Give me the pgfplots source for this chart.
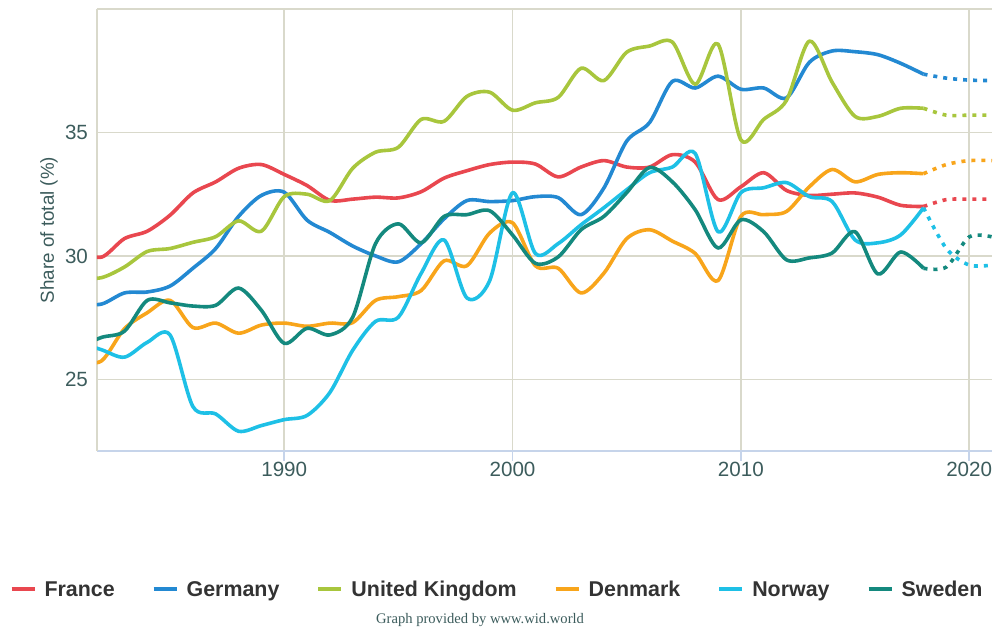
\documentclass[border=0pt]{standalone}
\usepackage{pgfplots}
\pgfplotsset{compat=1.18}
\usepackage{fontspec}
\setmainfont{Liberation Sans}
\newfontfamily\creditfont{Liberation Serif}
\definecolor{cFR}{HTML}{E9474F}
\definecolor{cDE}{HTML}{2389D2}
\definecolor{cUK}{HTML}{A8C63D}
\definecolor{cDK}{HTML}{F8A51B}
\definecolor{cNO}{HTML}{1EC0E6}
\definecolor{cSE}{HTML}{14897E}
\definecolor{gridc}{HTML}{D9D9CB}
\definecolor{axisblue}{HTML}{C6D4EA}
\definecolor{labc}{HTML}{3C5C5C}
\definecolor{legc}{HTML}{333333}
\begin{document}
\begin{tikzpicture}
\useasboundingbox (-48.5pt,-89.5pt) rectangle (449.5pt,225.5pt);
\begin{axis}[
  at={(0,0)}, anchor=south west,
  scale only axis, width=447.5pt, height=221pt,
  xmin=1981.8, xmax=2021, ymin=22.1, ymax=40,
  clip mode=individual,
  xtick={1990,2000,2010,2020}, ytick={25,30,35,40}, yticklabels={25,30,35,},
  grid=major, major grid style={gridc, line width=0.75pt},
  axis x line*=bottom, axis y line*=left,
  x axis line style={axisblue, line width=0.75pt, -},
  y axis line style={gridc, line width=0.75pt, -},
  tick align=outside, major tick length=5pt,
  xtick style={axisblue, line width=0.75pt},
  ytick style={draw=none},
  ticklabel style={font=\fontsize{10.3}{12}\selectfont, text=labc},
  /pgf/number format/assume math mode=true,
  x tick label style={/pgf/number format/1000 sep={}, yshift=3pt},
  y tick label style={xshift=4pt},
  ylabel={Share of total (\%)},
  ylabel style={at={(axis description cs:-0.0536,0.5)}, anchor=center, font=\fontsize{9.4}{11}\selectfont, text=labc},
  legend columns=6,
  legend style={at={(axis description cs:0.4458,-0.3130)}, anchor=center, draw=none, fill=none,
    font=\bfseries\fontsize{10.7}{13}\selectfont, text=legc, inner sep=0pt,
    nodes={inner sep=0pt, text height=8.5pt, text depth=1pt},
    column sep=4pt, /tikz/every even column/.append style={column sep=18.5pt}},
  legend image code/.code={\draw[#1, line width=2pt, solid] (0pt,0pt) -- (11.5pt,0pt);},
  legend cell align=left,
  every axis plot/.append style={line width=1.8pt, smooth, line join=round},
]
% France
\addplot[cFR] coordinates {
(1981,30.2)(1982,29.95)(1983,30.7)(1984,31.0)(1985,31.65)(1986,32.55)(1987,33.0)(1988,33.55)(1989,33.7)(1990,33.3)
(1991,32.85)(1992,32.25)(1993,32.3)(1994,32.38)(1995,32.35)(1996,32.6)(1997,33.15)(1998,33.45)(1999,33.7)(2000,33.8)
(2001,33.72)(2002,33.2)(2003,33.6)(2004,33.86)(2005,33.6)(2006,33.6)(2007,34.1)(2008,33.8)(2009,32.28)(2010,32.8)
(2011,33.37)(2012,32.65)(2013,32.45)(2014,32.5)(2015,32.55)(2016,32.38)(2017,32.05)(2018,32.0)};
\addlegendentry{France}
% Germany
\addplot[cDE] coordinates {
(1981,28.05)(1982,28.05)(1983,28.5)(1984,28.54)(1985,28.78)(1986,29.5)(1987,30.3)(1988,31.6)(1989,32.45)(1990,32.58)
(1991,31.45)(1992,30.95)(1993,30.4)(1994,30.0)(1995,29.76)(1996,30.5)(1997,31.5)(1998,32.24)(1999,32.2)(2000,32.24)
(2001,32.4)(2002,32.36)(2003,31.67)(2004,32.75)(2005,34.65)(2006,35.4)(2007,37.07)(2008,36.8)(2009,37.28)(2010,36.75)
(2011,36.8)(2012,36.4)(2013,37.84)(2014,38.3)(2015,38.27)(2016,38.15)(2017,37.8)(2018,37.36)};
\addlegendentry{Germany}
% United Kingdom
\addplot[cUK] coordinates {
(1981,29.1)(1982,29.12)(1983,29.55)(1984,30.18)(1985,30.3)(1986,30.55)(1987,30.78)(1988,31.42)(1989,31.0)(1990,32.4)
(1991,32.5)(1992,32.24)(1993,33.55)(1994,34.2)(1995,34.4)(1996,35.53)(1997,35.45)(1998,36.46)(1999,36.63)(2000,35.9)
(2001,36.2)(2002,36.42)(2003,37.6)(2004,37.1)(2005,38.25)(2006,38.5)(2007,38.66)(2008,36.95)(2009,38.58)(2010,34.7)
(2011,35.53)(2012,36.3)(2013,38.7)(2014,37.03)(2015,35.65)(2016,35.65)(2017,35.98)(2018,35.98)};
\addlegendentry{United Kingdom}
% Denmark
\addplot[cDK] coordinates {
(1981,25.7)(1982,25.75)(1983,27.05)(1984,27.7)(1985,28.2)(1986,27.1)(1987,27.28)(1988,26.87)(1989,27.2)(1990,27.28)
(1991,27.15)(1992,27.28)(1993,27.3)(1994,28.2)(1995,28.35)(1996,28.6)(1997,29.8)(1998,29.6)(1999,30.93)(2000,31.34)
(2001,29.6)(2002,29.5)(2003,28.5)(2004,29.3)(2005,30.7)(2006,31.06)(2007,30.6)(2008,30.1)(2009,29.0)(2010,31.6)
(2011,31.67)(2012,31.8)(2013,32.8)(2014,33.5)(2015,33.0)(2016,33.3)(2017,33.37)(2018,33.33)};
\addlegendentry{Denmark}
% Norway
\addplot[cNO] coordinates {
(1981,26.5)(1982,26.2)(1983,25.9)(1984,26.5)(1985,26.8)(1986,23.9)(1987,23.6)(1988,22.9)(1989,23.13)(1990,23.37)
(1991,23.54)(1992,24.47)(1993,26.18)(1994,27.35)(1995,27.52)(1996,29.3)(1997,30.65)(1998,28.3)(1999,29.0)(2000,32.56)
(2001,30.1)(2002,30.5)(2003,31.26)(2004,31.95)(2005,32.68)(2006,33.37)(2007,33.6)(2008,34.15)(2009,30.98)(2010,32.56)
(2011,32.76)(2012,32.97)(2013,32.4)(2014,32.2)(2015,30.65)(2016,30.53)(2017,30.85)(2018,31.95)};
\addlegendentry{Norway}
% Sweden
\addplot[cSE] coordinates {
(1981,26.3)(1982,26.7)(1983,26.95)(1984,28.2)(1985,28.1)(1986,27.97)(1987,28.0)(1988,28.7)(1989,27.8)(1990,26.46)
(1991,27.07)(1992,26.8)(1993,27.52)(1994,30.5)(1995,31.3)(1996,30.53)(1997,31.6)(1998,31.67)(1999,31.83)(2000,30.85)
(2001,29.7)(2002,29.96)(2003,31.06)(2004,31.6)(2005,32.56)(2006,33.58)(2007,33.0)(2008,31.87)(2009,30.32)(2010,31.46)
(2011,30.98)(2012,29.84)(2013,29.92)(2014,30.12)(2015,30.98)(2016,29.27)(2017,30.16)(2018,29.5)};
\addlegendentry{Sweden}
% projections (dotted)
\addplot[cFR, forget plot, dash pattern=on 2pt off 3pt] coordinates {(2018,32.0)(2019,32.28)(2020,32.3)(2021,32.3)};
\addplot[cDE, forget plot, dash pattern=on 2pt off 3pt] coordinates {(2018,37.36)(2019,37.2)(2020,37.12)(2021,37.1)};
\addplot[cUK, forget plot, dash pattern=on 2pt off 3pt] coordinates {(2018,35.98)(2019,35.7)(2020,35.7)(2021,35.7)};
\addplot[cDK, forget plot, dash pattern=on 2pt off 3pt] coordinates {(2018,33.33)(2019,33.7)(2020,33.86)(2021,33.86)};
\addplot[cNO, forget plot, dash pattern=on 2pt off 3pt] coordinates {(2018,31.95)(2019,30.3)(2020,29.63)(2021,29.63)};
\addplot[cSE, forget plot, dash pattern=on 2pt off 3pt] coordinates {(2018,29.5)(2019,29.55)(2020,30.77)(2021,30.77)};
\node[font=\creditfont\fontsize{7.3}{9}\selectfont, text=labc, anchor=center] at (axis description cs:0.428,-0.3824) {Graph provided by www.wid.world};
\end{axis}
\end{tikzpicture}
\end{document}
